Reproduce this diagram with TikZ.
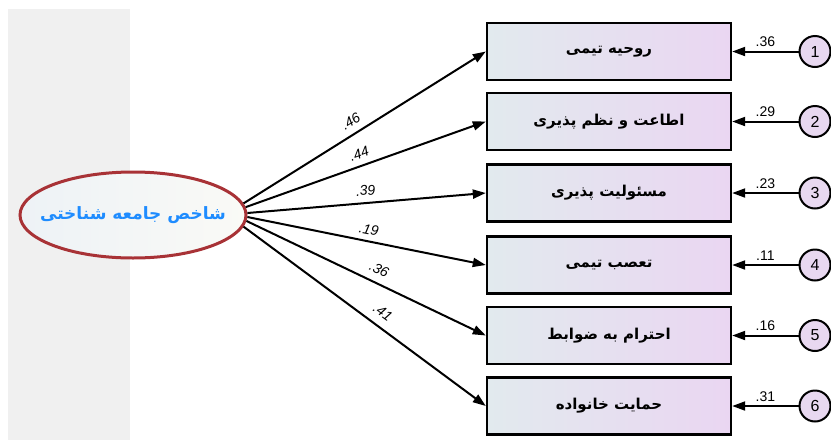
\documentclass[tikz,border=0pt]{standalone}
\usepackage{fontspec}
\setmainfont{Liberation Sans}
\newfontfamily\arabicfont[Script=Arabic]{DejaVu Sans}
\TeXXeTstate=1
\usetikzlibrary{arrows.meta,shapes.geometric}
\definecolor{bgray}{HTML}{F0F0F0}
\definecolor{boxl}{HTML}{E2EAEE}
\definecolor{boxr}{HTML}{EAD6F2}
\definecolor{circf}{HTML}{E8D8F0}
\definecolor{ellb}{HTML}{A83236}
\definecolor{elltxt}{HTML}{1E8CFF}
\definecolor{elll}{HTML}{EDF2F6}
\definecolor{ellr}{HTML}{FAFAF6}
\tikzset{
  itembox/.style={draw=black, line width=2.4pt, left color=boxl, right color=boxr,
    minimum width=244pt, minimum height=57pt, inner sep=0pt,
    font=\arabicfont\bfseries\fontsize{15}{18}\selectfont},
  errc/.style={circle, draw=black, line width=2pt, fill=circf, minimum size=31pt,
    inner sep=0pt, font=\fontsize{16}{18}\selectfont},
  conn/.style={line width=2pt, -{Triangle[length=13pt,width=9pt]}},
  wlab/.style={font=\itshape\fontsize{14}{16}\selectfont, inner sep=0.5pt},
  elab/.style={font=\fontsize{14}{16}\selectfont, inner sep=0.5pt}
}
\begin{document}
\begin{tikzpicture}[x=1pt,y=-1pt]
\useasboundingbox (0,0) rectangle (831,440);
\fill[bgray] (8,9) rectangle (130,440);
\node[ellipse, draw=ellb, line width=3pt, left color=elll, right color=ellr,
  minimum width=226pt, minimum height=86pt, inner sep=0pt,
  font=\arabicfont\bfseries\fontsize{17}{20}\selectfont, text=elltxt] (e) at (133,215)
  {\makebox[0pt]{\beginR شاخص جامعه شناختی\endR}};
\node[itembox] (b1) at (609,51.5) {\beginR روحیه تیمی\endR};
\node[itembox] (b2) at (609,121.5) {\beginR اطاعت و نظم پذیری\endR};
\node[itembox] (b3) at (609,193) {\beginR مسئولیت پذیری\endR};
\node[itembox] (b4) at (609,265) {\beginR تعصب تیمی\endR};
\node[itembox] (b5) at (609,335.5) {\beginR احترام به ضوابط\endR};
\node[itembox] (b6) at (609,406) {\beginR حمایت خانواده\endR};
\node[errc] (c1) at (815,51.5) {1};
\node[errc] (c2) at (815,121.5) {2};
\node[errc] (c3) at (815,193) {3};
\node[errc] (c4) at (815,265) {4};
\node[errc] (c5) at (815,335.5) {5};
\node[errc] (c6) at (815,406) {6};
\draw[conn] (c1) -- node[elab, above=3pt] {.36} (b1);
\draw[conn] (c2) -- node[elab, above=3pt] {.29} (b2);
\draw[conn] (c3) -- node[elab, above=3pt] {.23} (b3);
\draw[conn] (c4) -- node[elab, above=3pt] {.11} (b4);
\draw[conn] (c5) -- node[elab, above=3pt] {.16} (b5);
\draw[conn] (c6) -- node[elab, above=3pt] {.31} (b6);
\draw[conn] (e.6.3) -- node[wlab, sloped, above=6pt, pos=0.47] {.46} (b1.west);
\draw[conn] (e.4.1) -- node[wlab, sloped, above=6pt, pos=0.49] {.44} (b2.west);
\draw[conn] (e.1.0) -- node[wlab, sloped, above=6pt, pos=0.5] {.39} (b3.west);
\draw[conn] (e.-1.5) -- node[wlab, sloped, above=5pt, pos=0.5] {.19} (b4.west);
\draw[conn] (e.-3.6) -- node[wlab, sloped, above=7pt, pos=0.53] {.36} (b5.west);
\draw[conn] (e.-6.3) -- node[wlab, sloped, above=8pt, pos=0.54] {.41} (b6.west);
\end{tikzpicture}
\end{document}
